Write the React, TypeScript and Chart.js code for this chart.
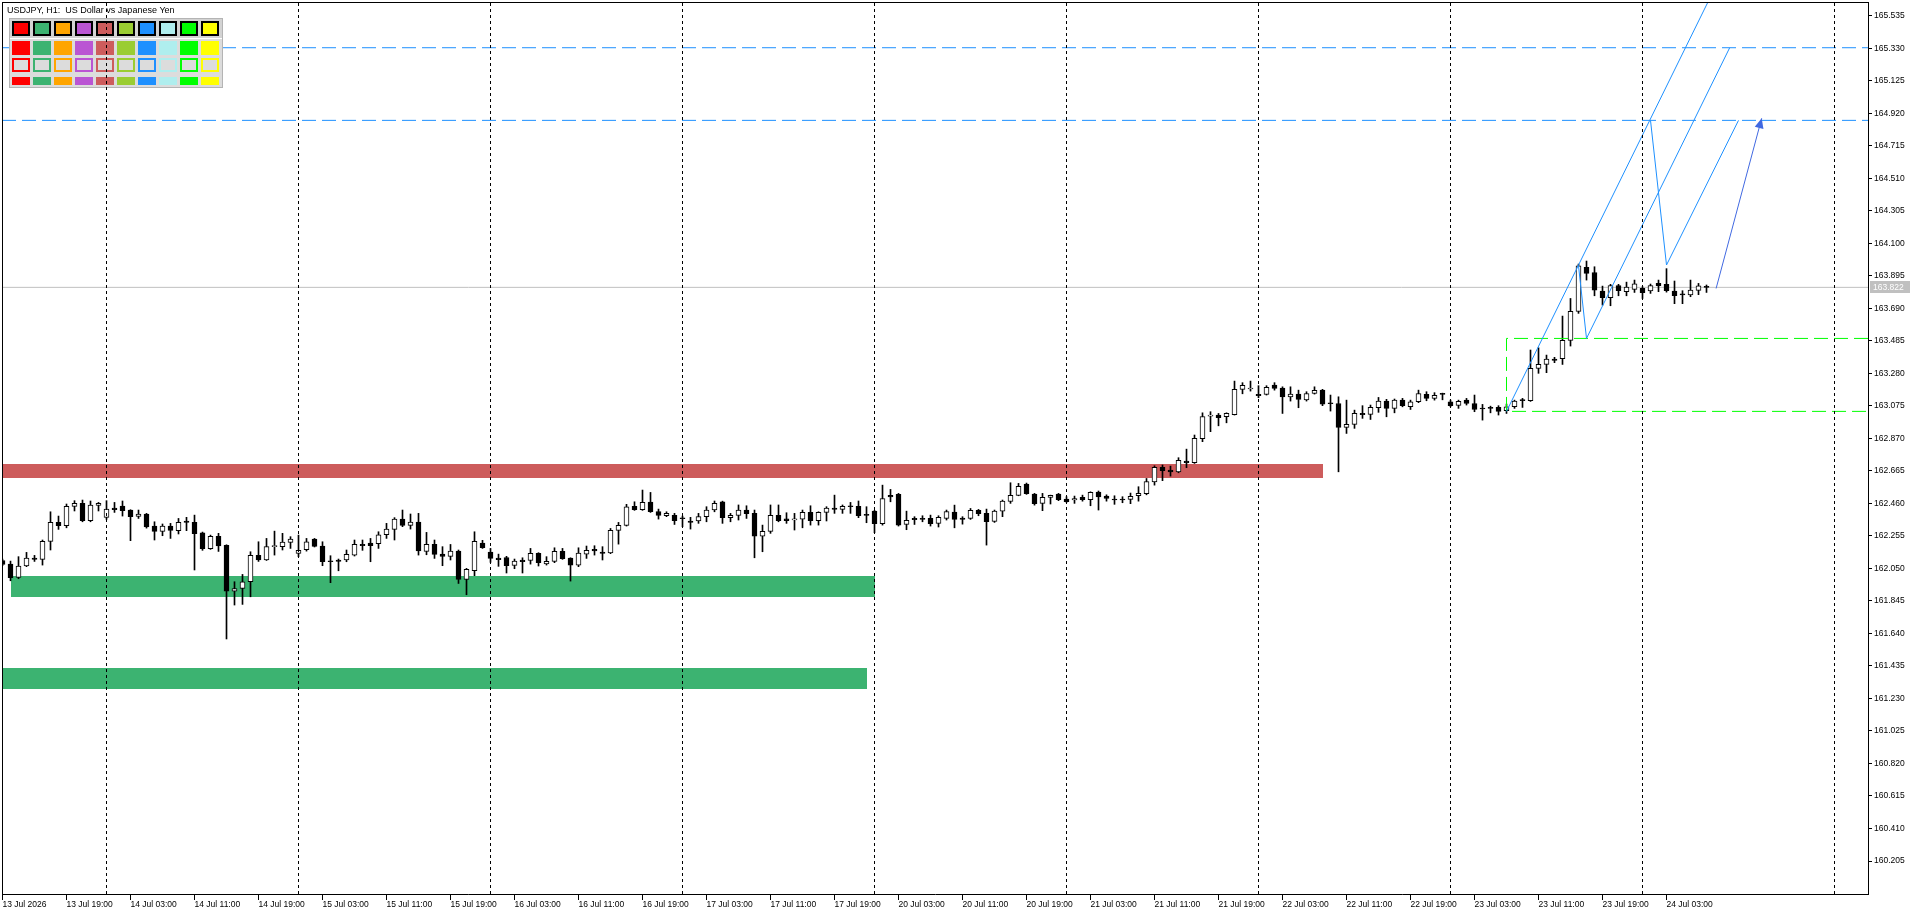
import React, { useEffect, useRef } from "react";
import { Chart, registerables } from "chart.js";

Chart.register(...registerables);

// ---------- text ----------
const TITLE = "USDJPY, H1:  US Dollar vs Japanese Yen";

// one label every 8 hourly bars, starting at bar 0 (13 Jul 11:00)
const LABEL_STEP = 8;
const timeLabels = [
  "13 Jul 2026", "13 Jul 19:00", "14 Jul 03:00", "14 Jul 11:00", "14 Jul 19:00",
  "15 Jul 03:00", "15 Jul 11:00", "15 Jul 19:00", "16 Jul 03:00", "16 Jul 11:00",
  "16 Jul 19:00", "17 Jul 03:00", "17 Jul 11:00", "17 Jul 19:00", "20 Jul 03:00",
  "20 Jul 11:00", "20 Jul 19:00", "21 Jul 03:00", "21 Jul 11:00", "21 Jul 19:00",
  "22 Jul 03:00", "22 Jul 11:00", "22 Jul 19:00", "23 Jul 03:00", "23 Jul 11:00",
  "23 Jul 19:00", "24 Jul 03:00",
];

// bars at which a new day starts (00:00)
const daySeparatorBars = [13, 37, 61, 85, 109, 133, 157, 181, 205, 229];

const priceTicks = [
  160.205, 160.41, 160.615, 160.82, 161.025, 161.23, 161.435, 161.64, 161.845,
  162.05, 162.255, 162.46, 162.665, 162.87, 163.075, 163.28, 163.485, 163.69,
  163.895, 164.1, 164.305, 164.51, 164.715, 164.92, 165.125, 165.33, 165.535,
];

// ---------- candles (H1) ----------
const opens = [
  162.100, 162.077, 161.993, 162.065, 162.115, 162.107, 162.220, 162.340, 162.319, 162.441,
  162.460, 162.351, 162.447, 162.372, 162.430, 162.443, 162.418, 162.378, 162.393, 162.317,
  162.283, 162.317, 162.288, 162.349, 162.340, 162.275, 162.174, 162.252, 162.195, 161.907,
  161.924, 161.966, 162.132, 162.103, 162.187, 162.187, 162.214, 162.145, 162.168, 162.235,
  162.191, 162.098, 162.103, 162.103, 162.134, 162.201, 162.210, 162.206, 162.262, 162.296,
  162.361, 162.321, 162.342, 162.157, 162.201, 162.140, 162.126, 162.159, 161.981, 162.035,
  162.210, 162.153, 162.115, 162.119, 162.069, 162.103, 162.100, 162.145, 162.079, 162.094,
  162.157, 162.115, 162.071, 162.140, 162.170, 162.153, 162.147, 162.290, 162.321, 162.441,
  162.420, 162.468, 162.409, 162.382, 162.384, 162.367, 162.349, 162.349, 162.376, 162.418,
  162.470, 162.370, 162.384, 162.418, 162.397, 162.254, 162.283, 162.384, 162.363, 162.355,
  162.361, 162.403, 162.351, 162.403, 162.430, 162.422, 162.443, 162.441, 162.388, 162.411,
  162.332, 162.510, 162.517, 162.327, 162.365, 162.365, 162.365, 162.334, 162.365, 162.405,
  162.367, 162.365, 162.416, 162.397, 162.346, 162.411, 162.472, 162.510, 162.582, 162.519,
  162.460, 162.498, 162.519, 162.487, 162.481, 162.498, 162.483, 162.531, 162.506, 162.485,
  162.485, 162.485, 162.508, 162.521, 162.596, 162.687, 162.670, 162.659, 162.727, 162.716,
  162.868, 163.010, 163.017, 163.006, 163.019, 163.179, 163.181, 163.147, 163.147, 163.206,
  163.187, 163.132, 163.149, 163.113, 163.153, 163.174, 163.092, 163.090, 162.939, 162.958,
  163.027, 163.021, 163.063, 163.105, 163.059, 163.111, 163.069, 163.101, 163.147, 163.122,
  163.153, 163.101, 163.078, 163.111, 163.090, 163.061, 163.065, 163.065, 163.044, 163.069,
  163.114, 163.107, 163.311, 163.336, 163.370, 163.372, 163.488, 163.671, 163.948, 163.916,
  163.799, 163.757, 163.834, 163.795, 163.809, 163.816, 163.799, 163.847, 163.841, 163.799,
  163.782, 163.774, 163.803, 163.826,
];
const highs = [
  162.109, 162.096, 162.124, 162.151, 162.132, 162.229, 162.407, 162.380, 162.456, 162.477,
  162.481, 162.475, 162.466, 162.477, 162.466, 162.475, 162.420, 162.418, 162.397, 162.344,
  162.330, 162.334, 162.365, 162.372, 162.386, 162.279, 162.260, 162.271, 162.199, 161.966,
  162.012, 162.155, 162.218, 162.239, 162.285, 162.271, 162.250, 162.260, 162.239, 162.239,
  162.218, 162.130, 162.109, 162.166, 162.229, 162.229, 162.239, 162.281, 162.334, 162.370,
  162.418, 162.393, 162.397, 162.277, 162.229, 162.187, 162.201, 162.166, 162.050, 162.281,
  162.227, 162.176, 162.140, 162.126, 162.109, 162.117, 162.176, 162.149, 162.124, 162.180,
  162.176, 162.117, 162.180, 162.191, 162.193, 162.187, 162.302, 162.340, 162.454, 162.470,
  162.544, 162.529, 162.424, 162.407, 162.397, 162.380, 162.372, 162.397, 162.439, 162.475,
  162.474, 162.397, 162.450, 162.445, 162.418, 162.323, 162.450, 162.450, 162.401, 162.397,
  162.418, 162.445, 162.407, 162.439, 162.512, 162.450, 162.466, 162.475, 162.439, 162.416,
  162.575, 162.548, 162.523, 162.411, 162.376, 162.382, 162.386, 162.382, 162.418, 162.449,
  162.376, 162.428, 162.422, 162.424, 162.418, 162.481, 162.590, 162.586, 162.588, 162.523,
  162.523, 162.512, 162.523, 162.502, 162.506, 162.512, 162.533, 162.538, 162.514, 162.508,
  162.502, 162.525, 162.565, 162.617, 162.697, 162.702, 162.695, 162.748, 162.802, 162.891,
  163.031, 163.038, 163.027, 163.031, 163.231, 163.221, 163.231, 163.202, 163.202, 163.221,
  163.195, 163.195, 163.174, 163.164, 163.195, 163.179, 163.143, 163.132, 163.111, 163.048,
  163.076, 163.080, 163.128, 163.116, 163.118, 163.122, 163.111, 163.174, 163.164, 163.158,
  163.155, 163.111, 163.111, 163.122, 163.143, 163.084, 163.073, 163.076, 163.086, 163.111,
  163.122, 163.427, 163.441, 163.395, 163.381, 163.641, 163.752, 163.969, 163.988, 163.952,
  163.830, 163.841, 163.841, 163.855, 163.868, 163.826, 163.843, 163.868, 163.940, 163.862,
  163.801, 163.868, 163.847, 163.837,
];
const lows = [
  162.067, 161.972, 161.985, 162.061, 162.094, 162.071, 162.166, 162.296, 162.306, 162.412,
  162.344, 162.344, 162.412, 162.359, 162.403, 162.380, 162.225, 162.365, 162.304, 162.229,
  162.256, 162.239, 162.267, 162.288, 162.040, 162.164, 162.170, 162.157, 161.605, 161.819,
  161.823, 161.871, 162.094, 162.100, 162.134, 162.166, 162.176, 162.124, 162.159, 162.185,
  162.067, 161.960, 162.035, 162.092, 162.128, 162.164, 162.092, 162.176, 162.239, 162.229,
  162.313, 162.298, 162.134, 162.136, 162.113, 162.067, 162.103, 161.955, 161.884, 162.004,
  162.176, 162.088, 162.063, 162.021, 162.048, 162.021, 162.077, 162.065, 162.071, 162.086,
  162.107, 161.970, 162.061, 162.113, 162.134, 162.103, 162.143, 162.203, 162.317, 162.416,
  162.416, 162.403, 162.361, 162.376, 162.327, 162.313, 162.298, 162.334, 162.344, 162.407,
  162.334, 162.344, 162.355, 162.365, 162.117, 162.155, 162.271, 162.344, 162.334, 162.292,
  162.306, 162.323, 162.323, 162.349, 162.397, 162.397, 162.397, 162.370, 162.338, 162.275,
  162.323, 162.470, 162.317, 162.294, 162.327, 162.344, 162.317, 162.311, 162.355, 162.306,
  162.329, 162.359, 162.382, 162.197, 162.340, 162.376, 162.460, 162.508, 162.517, 162.449,
  162.414, 162.456, 162.477, 162.466, 162.460, 162.474, 162.445, 162.418, 162.474, 162.454,
  162.464, 162.458, 162.474, 162.514, 162.575, 162.603, 162.632, 162.653, 162.685, 162.712,
  162.849, 162.912, 162.949, 162.968, 163.017, 163.151, 163.168, 163.126, 163.143, 163.174,
  163.027, 163.105, 163.063, 163.105, 163.149, 163.076, 163.042, 162.659, 162.901, 162.933,
  162.996, 162.989, 163.034, 163.006, 163.031, 163.069, 163.052, 163.095, 163.107, 163.111,
  163.113, 163.069, 163.059, 163.080, 163.038, 162.985, 163.031, 163.017, 163.027, 163.059,
  163.065, 163.103, 163.280, 163.284, 163.347, 163.336, 163.452, 163.658, 163.868, 163.769,
  163.710, 163.706, 163.769, 163.769, 163.790, 163.752, 163.784, 163.795, 163.792, 163.719,
  163.719, 163.763, 163.776, 163.790,
];
const closes = [
  162.075, 161.991, 162.065, 162.115, 162.107, 162.220, 162.340, 162.319, 162.441, 162.460,
  162.351, 162.450, 162.460, 162.424, 162.420, 162.414, 162.376, 162.393, 162.311, 162.283,
  162.317, 162.290, 162.340, 162.340, 162.269, 162.174, 162.252, 162.191, 161.907, 161.922,
  161.966, 162.132, 162.103, 162.187, 162.191, 162.216, 162.235, 162.164, 162.218, 162.189,
  162.092, 162.092, 162.094, 162.138, 162.201, 162.193, 162.193, 162.262, 162.298, 162.361,
  162.321, 162.342, 162.161, 162.201, 162.138, 162.126, 162.159, 161.981, 162.044, 162.220,
  162.180, 162.113, 162.105, 162.067, 162.096, 162.092, 162.145, 162.086, 162.094, 162.157,
  162.111, 162.071, 162.147, 162.164, 162.161, 162.145, 162.290, 162.321, 162.439, 162.420,
  162.466, 162.407, 162.384, 162.397, 162.351, 162.363, 162.340, 162.376, 162.418, 162.460,
  162.370, 162.384, 162.418, 162.395, 162.254, 162.283, 162.384, 162.351, 162.351, 162.363,
  162.403, 162.351, 162.403, 162.430, 162.422, 162.441, 162.439, 162.382, 162.384, 162.332,
  162.491, 162.500, 162.323, 162.353, 162.357, 162.359, 162.332, 162.372, 162.409, 162.359,
  162.359, 162.416, 162.395, 162.344, 162.411, 162.474, 162.510, 162.567, 162.521, 162.458,
  162.498, 162.510, 162.483, 162.470, 162.491, 162.483, 162.529, 162.500, 162.491, 162.481,
  162.481, 162.504, 162.523, 162.598, 162.687, 162.666, 162.659, 162.731, 162.716, 162.870,
  163.008, 163.017, 163.000, 163.027, 163.179, 163.204, 163.185, 163.139, 163.191, 163.185,
  163.132, 163.149, 163.116, 163.153, 163.172, 163.086, 163.088, 162.939, 162.958, 163.027,
  163.019, 163.065, 163.105, 163.059, 163.111, 163.076, 163.101, 163.153, 163.122, 163.141,
  163.147, 163.076, 163.103, 163.090, 163.052, 163.055, 163.059, 163.040, 163.069, 163.105,
  163.107, 163.311, 163.336, 163.370, 163.362, 163.488, 163.671, 163.958, 163.910, 163.805,
  163.757, 163.834, 163.801, 163.824, 163.845, 163.788, 163.834, 163.832, 163.801, 163.769,
  163.774, 163.805, 163.832, 163.822,
];

// ---------- objects ----------
const currentPrice = 163.822;
const blueLevels = [165.333, 164.875];

// support / resistance zones (bar index range, price range)
const zoneStart = [-5, 1, -5];
const zoneEnd = [165, 109, 108];
const zoneHigh = [162.708, 162.002, 161.422];
const zoneLow = [162.62, 161.869, 161.289];
const zoneColors = ["#CD5C5C", "#3CB371", "#3CB371"];

// green dashed box, from bar 188 to the right edge
const boxLeftBar = 188;
const boxHigh = 163.5;
const boxLow = 163.04;

// blue projection lines
const forkStartBar = [188, 197, 198, 206, 208];
const forkStartPrice = [163.04, 163.958, 163.5, 164.875, 163.963];
const forkEndBar = [213.2, 198, 215.9, 208, 217];
const forkEndPrice = [165.623, 163.5, 165.333, 163.963, 164.875];

// arrow
const arrowBars = [214.2, 219.9];
const arrowPrices = [163.815, 164.888];

const paletteColors = [
  "#FF0000", "#3CB371", "#FFA500", "#BA55D3", "#CD5C5C",
  "#9ACD32", "#1E90FF", "#AFEEEE", "#00FF00", "#FFFF00",
];

// ---------- layout constants ----------
const W = 1920;
const H = 915;
const X_MIN = -0.0625;
const X_MAX = 233.1875;
const Y_MIN = 159.997;
const Y_MAX = 165.615;
const FONT = '"Liberation Sans", Arial, sans-serif';
const DASH = [14, 6];

function drawPalette(ctx: CanvasRenderingContext2D) {
  const px = 9, py = 18, pw = 214, ph = 70;
  ctx.save();
  ctx.fillStyle = "#B4B4B4";
  ctx.fillRect(px, py, pw, ph);
  ctx.fillStyle = "#D3D3D3";
  ctx.fillRect(px + 1, py + 1, pw - 2, 19);
  ctx.fillStyle = "#FFFFFF";
  ctx.fillRect(px + 1, py + 20, pw - 2, 1);
  ctx.fillStyle = "#DCDCDC";
  ctx.fillRect(px + 1, py + 21, pw - 2, ph - 22);
  paletteColors.forEach((c, k) => {
    const cx = 12 + 21 * k;
    ctx.fillStyle = "#000000";
    ctx.fillRect(cx, 21, 18, 15);
    ctx.fillStyle = c;
    ctx.fillRect(cx + 2, 23, 14, 11);
    ctx.fillStyle = c;
    ctx.fillRect(cx, 41, 18, 14);
    ctx.strokeStyle = c;
    ctx.lineWidth = 2;
    ctx.strokeRect(cx + 1, 59, 16, 12);
    ctx.fillStyle = c;
    ctx.fillRect(cx, 77, 18, 8);
  });
  ctx.restore();
}

const mt5Plugin = {
  id: "mt5Overlay",
  beforeDatasetsDraw(chart: any) {
    const { ctx, chartArea: a, scales } = chart;
    const x = scales.x, y = scales.y;
    ctx.save();
    ctx.beginPath();
    ctx.rect(a.left, a.top, a.right - a.left, a.bottom - a.top);
    ctx.clip();
    zoneStart.forEach((s: number, k: number) => {
      const x1 = Math.round(x.getPixelForValue(s));
      const x2 = Math.round(x.getPixelForValue(zoneEnd[k]));
      const y1 = Math.round(y.getPixelForValue(zoneHigh[k]));
      const y2 = Math.round(y.getPixelForValue(zoneLow[k]));
      ctx.fillStyle = zoneColors[k];
      ctx.fillRect(x1, y1, x2 - x1, y2 - y1);
    });
    ctx.restore();
  },
  afterDatasetsDraw(chart: any) {
    const { ctx, chartArea: a, scales } = chart;
    const x = scales.x, y = scales.y;
    // arrow head
    const x0 = x.getPixelForValue(arrowBars[0]);
    const y0 = y.getPixelForValue(arrowPrices[0]);
    const x1 = x.getPixelForValue(arrowBars[1]);
    const y1 = y.getPixelForValue(arrowPrices[1]);
    const len = Math.hypot(x1 - x0, y1 - y0);
    const ux = (x1 - x0) / len, uy = (y1 - y0) / len;
    const L = 10, Wd = 4.5;
    ctx.save();
    ctx.fillStyle = "#4169E1";
    ctx.beginPath();
    ctx.moveTo(x1, y1);
    ctx.lineTo(x1 - L * ux - Wd * uy, y1 - L * uy + Wd * ux);
    ctx.lineTo(x1 - L * ux + Wd * uy, y1 - L * uy - Wd * ux);
    ctx.closePath();
    ctx.fill();
    ctx.restore();

    drawPalette(ctx);

    // day separators
    ctx.save();
    ctx.strokeStyle = "#000000";
    ctx.lineWidth = 1;
    ctx.setLineDash([3, 3]);
    daySeparatorBars.forEach((b) => {
      const px = Math.floor(x.getPixelForValue(b)) + 0.5;
      if (px < a.left || px > a.right) return;
      ctx.beginPath();
      ctx.moveTo(px, a.top);
      ctx.lineTo(px, a.bottom);
      ctx.stroke();
    });
    ctx.restore();
  },
  afterDraw(chart: any) {
    const { ctx, chartArea: a, scales } = chart;
    const y = scales.y;
    ctx.save();
    // frame top + left
    ctx.fillStyle = "#000000";
    ctx.fillRect(a.left, a.top - 1, a.right - a.left + 1, 1);
    ctx.fillRect(a.left, a.top - 1, 1, a.bottom - a.top + 1);
    // title
    ctx.font = `9px ${FONT}`;
    ctx.textBaseline = "alphabetic";
    ctx.textAlign = "left";
    ctx.fillStyle = "#000000";
    ctx.fillText(TITLE, 7, 13);
    // current price tag
    const yc = Math.round(y.getPixelForValue(currentPrice));
    ctx.fillStyle = "#C0C0C0";
    ctx.fillRect(a.right + 2, yc - 6, 40, 12);
    ctx.fillStyle = "#FFFFFF";
    ctx.font = `8.5px ${FONT}`;
    ctx.textBaseline = "middle";
    ctx.fillText(currentPrice.toFixed(3), a.right + 5, yc + 0.5);
    ctx.restore();
  },
};

function lineDs(points: { x: number; y: number }[], color: string, dash: number[], order: number, width = 1) {
  return {
    type: "line" as const,
    data: points,
    borderColor: color,
    borderWidth: width,
    borderDash: dash,
    pointRadius: 0,
    pointHoverRadius: 0,
    tension: 0,
    fill: false,
    order,
  };
}

export default function App() {
  const ref = useRef<HTMLCanvasElement>(null);

  useEffect(() => {
    document.body.style.margin = "0";
    const canvas = ref.current;
    if (!canvas) return;

    const bodies = opens.map((o, i) => ({ x: i, y: [o, closes[i]] }));
    const wicks = lows.map((l, i) => ({ x: i, y: [l, highs[i]] }));
    const bodyColors = opens.map((o, i) => (closes[i] > o ? "#FFFFFF" : "#000000"));

    const datasets: any[] = [
      {
        type: "bar",
        data: bodies,
        backgroundColor: bodyColors,
        borderColor: "#000000",
        borderWidth: 1,
        borderSkipped: false,
        barThickness: 5,
        minBarLength: 1,
        grouped: false,
        order: 2,
      },
      {
        type: "bar",
        data: wicks,
        backgroundColor: "#000000",
        borderWidth: 0,
        barThickness: 1,
        grouped: false,
        order: 3,
      },
      lineDs([{ x: X_MIN, y: currentPrice }, { x: X_MAX, y: currentPrice }], "#C0C0C0", [], 10),
      ...blueLevels.map((v) => lineDs([{ x: X_MIN, y: v }, { x: X_MAX, y: v }], "#1E90FF", DASH, 4)),
      lineDs(
        [
          { x: X_MAX, y: boxHigh },
          { x: boxLeftBar, y: boxHigh },
          { x: boxLeftBar, y: boxLow },
          { x: X_MAX, y: boxLow },
        ],
        "#00FF00",
        DASH,
        1
      ),
      ...forkStartBar.map((b, k) =>
        lineDs(
          [
            { x: b, y: forkStartPrice[k] },
            { x: forkEndBar[k], y: forkEndPrice[k] },
          ],
          "#1E90FF",
          [],
          0
        )
      ),
      lineDs(
        [
          { x: arrowBars[0], y: arrowPrices[0] },
          { x: arrowBars[1], y: arrowPrices[1] },
        ],
        "#4169E1",
        [],
        0
      ),
    ];

    const tickFont = { family: FONT, size: 8.5 };

    const chart = new Chart(canvas, {
      type: "bar",
      data: { datasets },
      options: {
        animation: false,
        responsive: false,
        devicePixelRatio: 1,
        events: [],
        layout: { padding: { left: 2, top: 3, right: 0, bottom: 0 }, autoPadding: false },
        plugins: { legend: { display: false }, tooltip: { enabled: false } },
        scales: {
          x: {
            type: "linear",
            position: "bottom",
            min: X_MIN,
            max: X_MAX,
            offset: false,
            afterBuildTicks: (s: any) => {
              s.ticks = timeLabels.map((_, k) => ({ value: k * LABEL_STEP }));
            },
            afterFit: (s: any) => {
              s.height = 21;
              s.paddingLeft = 0;
              s.paddingRight = 0;
            },
            ticks: {
              autoSkip: false,
              maxRotation: 0,
              minRotation: 0,
              align: "start",
              padding: 0,
              color: "#000000",
              font: tickFont,
              callback: (_v: any, i: number) => timeLabels[i] ?? "",
            },
            grid: {
              display: true,
              drawOnChartArea: false,
              drawTicks: true,
              tickLength: 6,
              tickColor: "#000000",
              color: "#000000",
              offset: false,
            },
            border: { display: true, color: "#000000", width: 1 },
          },
          y: {
            type: "linear",
            position: "right",
            min: Y_MIN,
            max: Y_MAX,
            afterBuildTicks: (s: any) => {
              s.ticks = priceTicks.map((v) => ({ value: v }));
            },
            afterFit: (s: any) => {
              s.width = 52;
              s.paddingTop = 0;
              s.paddingBottom = 0;
            },
            ticks: {
              padding: 2,
              color: "#000000",
              font: tickFont,
              callback: (v: any) => Number(v).toFixed(3),
            },
            grid: {
              display: true,
              drawOnChartArea: false,
              drawTicks: true,
              tickLength: 4,
              tickColor: "#000000",
            },
            border: { display: true, color: "#000000", width: 1 },
          },
        },
      } as any,
      plugins: [mt5Plugin],
    } as any);

    return () => chart.destroy();
  }, []);

  return (
    <div style={{ width: W, height: H, position: "relative", background: "#FFFFFF" }}>
      <canvas ref={ref} width={W} height={H} style={{ display: "block", width: W, height: H }} />
    </div>
  );
}
